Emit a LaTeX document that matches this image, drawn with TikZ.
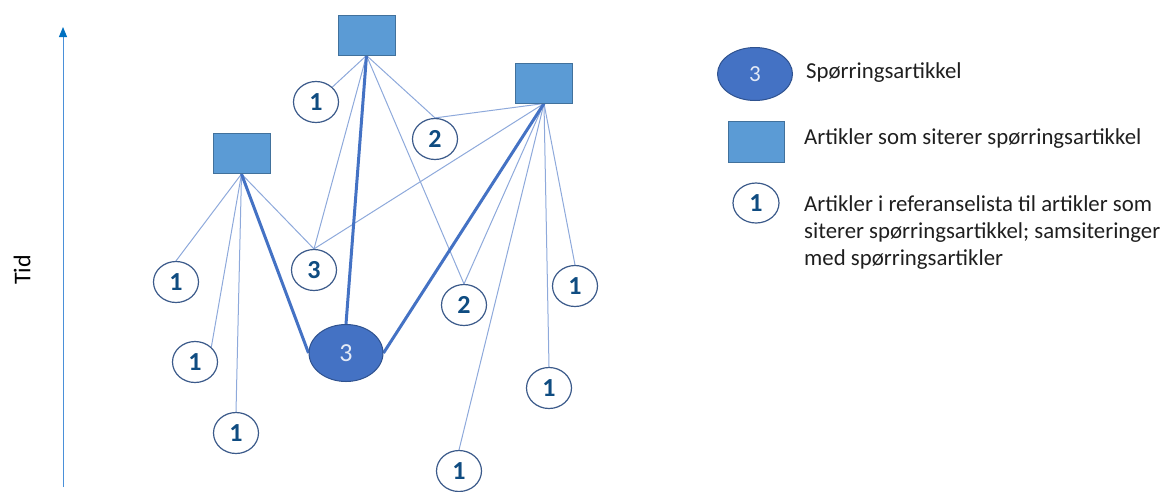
\documentclass[tikz,border=0pt]{standalone}
\usepackage{fontspec}
\setmainfont{Carlito}
\usetikzlibrary{shapes.geometric,arrows.meta,backgrounds}
\definecolor{rectfill}{HTML}{5B9BD5}
\definecolor{rectdraw}{HTML}{41719C}
\definecolor{thinln}{HTML}{8EA9DB}
\definecolor{thickln}{HTML}{4472C4}
\definecolor{circdraw}{HTML}{3B5A8A}
\definecolor{numcol}{HTML}{0F4C81}
\definecolor{qfill}{HTML}{4472C4}
\definecolor{qdraw}{HTML}{2F528F}
\definecolor{qtext}{HTML}{E4EAF6}
\definecolor{axiscol}{HTML}{4A90D9}
\definecolor{axistip}{HTML}{0070C0}
\tikzset{
  citing/.style={rectangle, draw=rectdraw, line width=1pt, fill=rectfill, minimum width=57pt, minimum height=40pt, inner sep=0pt},
  refart/.style={ellipse, draw=circdraw, line width=1.2pt, fill=white, minimum width=45pt, minimum height=41pt, inner sep=0pt, text=numcol, font=\fontsize{26}{30}\selectfont\bfseries},
  query/.style={ellipse, draw=qdraw, line width=1pt, fill=qfill, minimum width=74pt, minimum height=57pt, inner sep=0pt, text=qtext, font=\fontsize{26}{30}\selectfont},
  thinedge/.style={draw=thinln, line width=1pt},
  thickedge/.style={draw=thickln, line width=3pt},
  legtext/.style={font=\fontsize{22.8}{27}\selectfont, inner sep=0pt, text=black!88},
}
\begin{document}
\begin{tikzpicture}[x=1pt,y=-1pt]
\useasboundingbox (0,0) rectangle (1166,491);
% axis
\coordinate (ax0) at (63,487);
\coordinate (ax1) at (63,27);
\draw[axiscol, line width=1pt, -{Triangle[length=10pt,width=8pt,color=axistip]}] (ax0) -- (ax1);
\node[rotate=90, font=\fontsize{24}{28}\selectfont, inner sep=0pt] (tid) at (22,270) {Tid};
% citing articles
\node[citing] (s1) at (241.5,153.5) {};
\node[citing] (s2) at (366.5,35) {};
\node[citing] (s3) at (544,83) {};
% referenced articles
\node[refart] (a) at (316,102) {1};
\node[refart] (b) at (435,139) {2};
\node[refart] (c) at (314,270) {3};
\node[refart] (d) at (176,282) {1};
\node[refart] (e) at (195,362) {1};
\node[refart] (f) at (236,433) {1};
\node[refart] (g) at (464,305) {2};
\node[refart] (h) at (575,286) {1};
\node[refart] (i) at (549,388) {1};
\node[refart] (j) at (459,471) {1};
% query article
\node[query] (q) at (346,353) {3};
\begin{scope}[on background layer]
\path[thinedge] (s1.south) -- (d.north);
\path[thinedge] (s1.south) -- (e.north east);
\path[thinedge] (s1.south) -- (f.north);
\path[thinedge] (s1.south) -- (c.north);
\path[thinedge] (s2.south) -- (a.north east);
\path[thinedge] (s2.south) -- (c.north);
\path[thinedge] (s2.south) -- (b.north);
\path[thinedge] (s2.south) -- (g.north);
\path[thinedge] (s3.south) -- (b.north);
\path[thinedge] (s3.south) -- (c.north);
\path[thinedge] (s3.south) -- (g.north);
\path[thinedge] (s3.south) -- (j.north);
\path[thinedge] (s3.south) -- (i.north);
\path[thinedge] (s3.south) -- (h.north);
\path[thickedge] (s1.south) -- (q.west);
\path[thickedge] (s2.south) -- (q.north);
\path[thickedge] (s3.south) -- (q.east);
\end{scope}
% legend
\node[query, minimum width=75pt, minimum height=53pt, font=\fontsize{23}{28}\selectfont] (lq) at (755,74) {3};
\node[legtext, anchor=west] (lt1) at (806,73) {Spørringsartikkel};
\node[citing, minimum width=56pt, minimum height=41pt] (ls) at (756,141.5) {};
\node[legtext, anchor=west] (lt2) at (804,139) {Artikler som siterer spørringsartikkel};
\node[refart, minimum width=46pt, minimum height=40pt] (lc) at (756,203) {1};
\node[legtext, anchor=base west, align=left] (lt3) at (804,265) {Artikler i referanselista til artikler som\\siterer spørringsartikkel; samsiteringer\\med spørringsartikler};
\end{tikzpicture}
\end{document}
